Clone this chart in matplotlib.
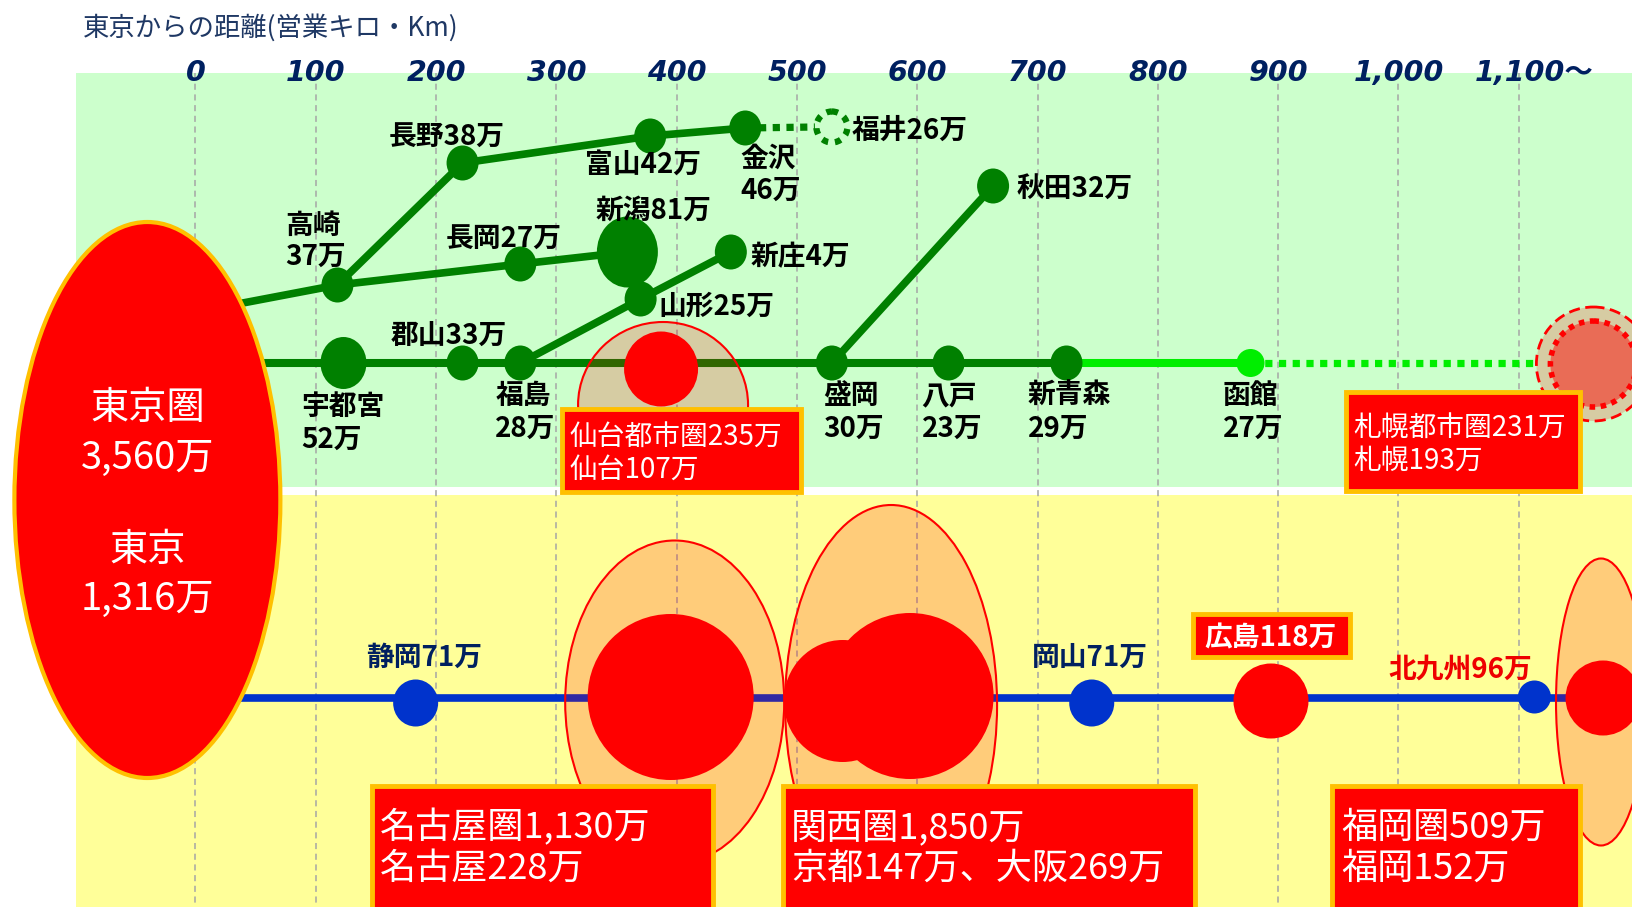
import matplotlib
matplotlib.use('Agg')
import matplotlib.pyplot as plt
from matplotlib.patches import Ellipse, Rectangle

plt.rcParams['font.family'] = ['Noto Sans CJK JP', 'DejaVu Sans']

# ---- data: distance from Tokyo (km, as placed on the chart), population (万人) ----
tick_km = [0, 100, 200, 300, 400, 500, 600, 700, 800, 900, 1000, 1100]
tick_labels = ['0', '100', '200', '300', '400', '500', '600', '700',
               '800', '900', '1,000', '1,100〜']

tokyo_km = -40
tokyo_pop = [3560, 1316]

tohoku_names = ['宇都宮', '郡山', '福島', '盛岡', '八戸', '新青森']
tohoku_km = [123, 222, 270, 529, 626, 724]
tohoku_pop = [52, 33, 28, 30, 23, 29]

hakodate_km, hakodate_pop = 877, 27
sendai_km, sendai_pop = 387, [235, 107]
sapporo_km, sapporo_pop = 1162, [231, 193]

joetsu_names = ['高崎', '長岡', '新潟']
joetsu_km = [118, 270, 359]
joetsu_pop = [37, 27, 81]

hokuriku_names = ['長野', '富山', '金沢']
hokuriku_km = [222, 378, 457]
hokuriku_pop = [38, 42, 46]
fukui_km, fukui_pop = 529, 26

yamagata_names = ['山形', '新庄']
yamagata_km = [370, 445]
yamagata_pop = [25, 4]

akita_km, akita_pop = 663, 32

tokaido_names = ['静岡', '岡山', '北九州']
tokaido_km = [183, 745, 1113]
tokaido_pop = [71, 71, 96]
hiroshima_km, hiroshima_pop = 894, 118
nagoya_km, nagoya_pop = 395, [1130, 228]
kyoto_km, osaka_km = 538, 594
kansai_pop = [1850, 147, 269]
fukuoka_km, fukuoka_pop = 1170, [509, 152]

# ---- layout helpers (pixel <-> km on x, pixel rows on y) ----
S = 1.203      # px per km
X0 = 195.5     # px of 0 km
TY = 3         # small downward nudge for CJK text centring


def W(px):
    return px / S


def X(px):
    return (px - X0) / S


DKGREEN = '#008000'
LTGREEN = '#00EE00'
BLUE = '#0033CC'
GOLD = '#FFC000'
NAVY = '#002060'
HALO = (1, 0, 0, 0.2)

fig = plt.figure(figsize=(16.32, 9.07), dpi=100)
ax = fig.add_axes([0, 0, 1, 1])
ax.set_xlim(X(0), X(1632))
ax.set_ylim(907, 0)
ax.axis('off')

# background bands
ax.add_patch(Rectangle((X(76), 73), W(1632 - 76), 414, fc='#CCFFCC', ec='none', zorder=0))
ax.add_patch(Rectangle((X(76), 495), W(1632 - 76), 412, fc='#FFFF99', ec='none', zorder=0))

ax.text(X(83), 25 + TY, '東京からの距離(営業キロ・Km)', color='#1F3864', fontsize=19,
        ha='left', va='center')

for k, lab in zip(tick_km, tick_labels):
    ax.plot([k, k], [73, 907], color='#A6A6A6', lw=1.1, ls=(0, (4, 3)), zorder=1)
    if lab.endswith('〜'):
        ax.text(k - W(44), 73, lab, ha='left', va='center', color=NAVY, fontsize=20.5,
                fontweight='bold', fontstyle='italic', family=['DejaVu Sans', 'Noto Sans CJK JP'])
    else:
        ax.text(k, 73, lab, ha='center', va='center', color=NAVY, fontsize=20.5,
                fontweight='bold', fontstyle='italic', family=['DejaVu Sans', 'Noto Sans CJK JP'])


def dot(km, y, w, h, color, z=4):
    ax.add_patch(Ellipse((km, y), W(w), h, fc=color, ec='none', zorder=z))


def halo(km, y, w, h, ls='-', lw=1.5):
    ax.add_patch(Ellipse((km, y), W(w), h, fc=HALO, ec='red', lw=lw, ls=ls, zorder=3))


def label(km, y, lines, dx, dy, ha='left', color='black', size=20, weight='bold', gap=33):
    for i, t in enumerate(lines):
        ax.text(km + W(dx), y + dy + i * gap + TY, t, ha=ha, va='center', color=color,
                fontsize=size, fontweight=weight, zorder=8)


def box(x0, y0, w, h, lines, size, tx, ty, gap):
    ax.add_patch(Rectangle((X(x0), y0), W(w), h, fc='red', ec=GOLD, lw=3.5, zorder=6))
    for i, t in enumerate(lines):
        ax.text(X(tx), ty + i * gap + TY, t, ha='left', va='center', color='white',
                fontsize=size, zorder=8)


big = {'宇都宮': (46, 52), '新潟': (61, 71)}
small = (32, 35)

# ---- upper area: Tohoku / Joetsu / Hokuriku lines ----
Y_TH = 363
ax.plot([0] + tohoku_km, [Y_TH] * (len(tohoku_km) + 1), color=DKGREEN, lw=5.8,
        solid_capstyle='butt', zorder=2)
ax.plot([tohoku_km[-1], hakodate_km], [Y_TH, Y_TH], color=LTGREEN, lw=5.8,
        solid_capstyle='butt', zorder=2)
ax.plot([hakodate_km, sapporo_km - W(57)], [Y_TH, Y_TH], color=LTGREEN, lw=5.2,
        ls=(0, (1, 0.9)), dash_capstyle='butt', zorder=2)

joetsu_y = [285, 264, 252]
ax.plot([0] + joetsu_km, [312] + joetsu_y, color=DKGREEN, lw=5.5, zorder=2)

hokuriku_y = [163, 136, 128]
ax.plot([joetsu_km[0]] + hokuriku_km, [joetsu_y[0]] + hokuriku_y, color=DKGREEN, lw=5.5, zorder=2)
ax.plot([hokuriku_km[-1], fukui_km - W(17)], [hokuriku_y[-1], 127], color=DKGREEN, lw=5.2,
        ls=(0, (1, 0.9)), dash_capstyle='butt', zorder=2)
ax.add_patch(Ellipse((fukui_km, 127), W(31), 31, fc='none', ec=DKGREEN, lw=4.5,
                     ls=(0, (1, 1.1)), zorder=4))

yamagata_y = [299, 252]
ax.plot([tohoku_km[2]] + yamagata_km, [Y_TH] + yamagata_y, color=DKGREEN, lw=5.5, zorder=2)
ax.plot([tohoku_km[3], akita_km], [Y_TH, 186], color=DKGREEN, lw=5.5, zorder=2)

for n, k in zip(tohoku_names, tohoku_km):
    w, h = big.get(n, small)
    dot(k, Y_TH, w, h, DKGREEN)
for n, k, y in zip(joetsu_names, joetsu_km, joetsu_y):
    w, h = big.get(n, small)
    dot(k, y, w, h, DKGREEN)
for k, y in zip(hokuriku_km, hokuriku_y):
    dot(k, y, *small, DKGREEN)
for k, y in zip(yamagata_km, yamagata_y):
    dot(k, y, *small, DKGREEN)
dot(akita_km, 186, *small, DKGREEN)
dot(hakodate_km, Y_TH, 28, 28, LTGREEN)

# Sendai / Sapporo
halo(sendai_km + W(2), 405, 170, 166)
dot(sendai_km, 369, 74, 75, 'red')
halo(sapporo_km, 364, 114, 114, ls=(0, (4, 2)), lw=2)
ax.add_patch(Ellipse((sapporo_km, 364), W(86), 86, fc=(1, 0, 0, 0.47), ec='red', lw=4,
                     ls=(0, (1, 1)), zorder=4))

# labels upper
tp = dict(zip(tohoku_names, tohoku_pop))
tk = dict(zip(tohoku_names, tohoku_km))
label(tk['宇都宮'], Y_TH, ['宇都宮', f"{tp['宇都宮']}万"], -42, 41)
label(tk['郡山'], Y_TH, [f"郡山{tp['郡山']}万"], -72, -30)
label(tk['福島'], Y_TH, ['福島', f"{tp['福島']}万"], -25, 30)
label(tk['盛岡'], Y_TH, ['盛岡', f"{tp['盛岡']}万"], -9, 30)
label(tk['八戸'], Y_TH, ['八戸', f"{tp['八戸']}万"], -27, 30)
label(tk['新青森'], Y_TH, ['新青森', f"{tp['新青森']}万"], -39, 30)
label(hakodate_km, Y_TH, ['函館', f'{hakodate_pop}万'], -28, 30)

label(joetsu_km[0], joetsu_y[0], ['高崎', f'{joetsu_pop[0]}万'], -52, -62, gap=31)
label(joetsu_km[1], joetsu_y[1], [f'長岡{joetsu_pop[1]}万'], -75, -27)
label(joetsu_km[2], joetsu_y[2], [f'新潟{joetsu_pop[2]}万'], -32, -44)
label(hokuriku_km[0], hokuriku_y[0], [f'長野{hokuriku_pop[0]}万'], -74, -28)
label(hokuriku_km[1], hokuriku_y[1], [f'富山{hokuriku_pop[1]}万'], -65, 26)
label(hokuriku_km[2], hokuriku_y[2], ['金沢', f'{hokuriku_pop[2]}万'], -5, 28, gap=32)
label(fukui_km, 127, [f'福井{fukui_pop}万'], 20, 1)
label(yamagata_km[0], yamagata_y[0], [f'山形{yamagata_pop[0]}万'], 18, 5)
label(yamagata_km[1], yamagata_y[1], [f'新庄{yamagata_pop[1]}万'], 20, 2)
label(akita_km, 186, [f'秋田{akita_pop}万'], 23, 1)

box(562, 409, 239, 83, [f'仙台都市圏{sendai_pop[0]}万', f'仙台{sendai_pop[1]}万'], 20, 570, 435, 32)
box(1346, 392, 234, 99, [f'札幌都市圏{sapporo_pop[0]}万', f'札幌{sapporo_pop[1]}万'], 20, 1353, 426, 32)

# ---- lower area: Tokaido / Sanyo line ----
Y_TK = 698
ax.plot([0, X(1632)], [Y_TK, Y_TK], color=BLUE, lw=5.5, solid_capstyle='butt', zorder=2)

halo(nagoya_km + W(4), 702, 219, 323)
dot(nagoya_km, 697, 166, 166, 'red')
halo(osaka_km - W(19), 705, 212, 400)
dot(kyoto_km, 701, 118, 122, 'red')
dot(osaka_km, 696, 167, 166, 'red')
halo(fukuoka_km - W(2), 702, 90, 287)
dot(fukuoka_km, 698, 75, 75, 'red')
dot(hiroshima_km, 701, 75, 75, 'red')

tok_y = [703, 703, 697]
tok_size = [(45, 47), (45, 47), (33, 33)]
for k, y, (w, h) in zip(tokaido_km, tok_y, tok_size):
    dot(k, y, w, h, BLUE)

label(tokaido_km[0], tok_y[0], [f'{tokaido_names[0]}{tokaido_pop[0]}万'], 8, -48, ha='center', color=NAVY)
label(tokaido_km[1], tok_y[1], [f'{tokaido_names[1]}{tokaido_pop[1]}万'], -2, -48, ha='center', color=NAVY)
label(tokaido_km[2], tok_y[2], [f'{tokaido_names[2]}{tokaido_pop[2]}万'], -74, -30, ha='center', color='#EE0000')

ax.add_patch(Rectangle((X(1193), 614), W(157), 43, fc='red', ec=GOLD, lw=3.5, zorder=6))
label(hiroshima_km, 701, [f'広島{hiroshima_pop}万'], 0, -66, ha='center', color='white')

box(372, 786, 341, 130, [f'名古屋圏{nagoya_pop[0]:,}万', f'名古屋{nagoya_pop[1]}万'], 26, 380, 825, 41)
box(783, 786, 412, 130, [f'関西圏{kansai_pop[0]:,}万', f'京都{kansai_pop[1]}万、大阪{kansai_pop[2]}万'],
    26, 791, 825, 41)
box(1332, 786, 248, 130, [f'福岡圏{fukuoka_pop[0]}万', f'福岡{fukuoka_pop[1]}万'], 26, 1341, 825, 41)

# ---- Tokyo ----
ax.add_patch(Ellipse((tokyo_km, 500), W(266), 556, fc='red', ec=GOLD, lw=3, zorder=5))
for y, t in zip([406, 455, 548, 596],
                ['東京圏', f'{tokyo_pop[0]:,}万', '東京', f'{tokyo_pop[1]:,}万']):
    ax.text(tokyo_km, y + TY, t, ha='center', va='center', color='white', fontsize=27.5, zorder=8)

fig.savefig('out.png', dpi=100)
